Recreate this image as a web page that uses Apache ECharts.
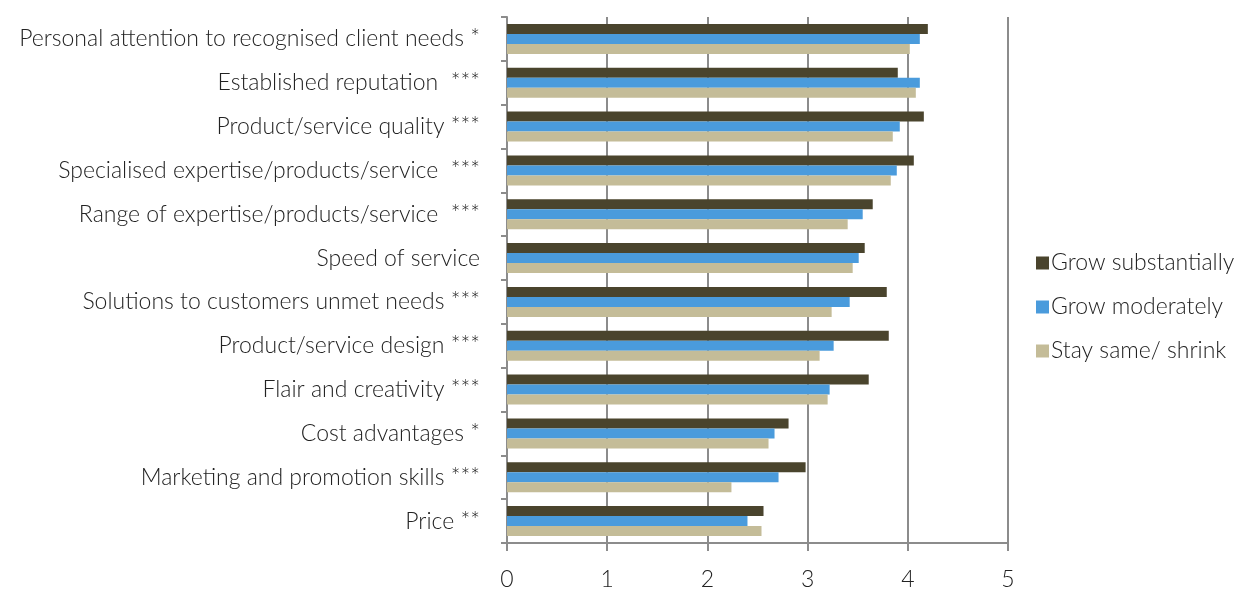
<!DOCTYPE html>
<html>
<head>
<meta charset="utf-8">
<script src="https://cdn.jsdelivr.net/npm/echarts@6/dist/echarts.min.js"></script>
<style>
  html, body { margin: 0; padding: 0; background: #ffffff; }
  #chart { width: 1241px; height: 594px; }
</style>
</head>
<body>
<div id="chart"></div>
<script>
// Factors, listed top to bottom
const categories = [
  'Personal attention to recognised client needs *',
  'Established reputation  ***',
  'Product/service quality ***',
  'Specialised expertise/products/service  ***',
  'Range of expertise/products/service  ***',
  'Speed of service',
  'Solutions to customers unmet needs ***',
  'Product/service design ***',
  'Flair and creativity ***',
  'Cost advantages *',
  'Marketing and promotion skills ***',
  'Price **'
];

const seriesNames = ['Grow substantially', 'Grow moderately', 'Stay same/ shrink'];

const growSubstantially = [4.20, 3.90, 4.16, 4.06, 3.65, 3.57, 3.79, 3.81, 3.61, 2.81, 2.98, 2.56];
const growModerately    = [4.12, 4.12, 3.92, 3.89, 3.55, 3.51, 3.42, 3.26, 3.22, 2.67, 2.71, 2.40];
const staySameShrink    = [4.02, 4.08, 3.85, 3.83, 3.40, 3.45, 3.24, 3.12, 3.20, 2.61, 2.24, 2.54];

const xTicks = [0, 1, 2, 3, 4, 5];

const colors = ['#4a442d', '#4a9bdc', '#c4bc98'];
const FONT = 'Lato';

const chart = echarts.init(document.getElementById('chart'));

function barSeries(name, data, color) {
  return {
    name: name,
    type: 'bar',
    data: data,
    barWidth: 10,
    barGap: '0%',
    itemStyle: { color: color },
    emphasis: { disabled: true }
  };
}

chart.setOption({
  animation: false,
  textStyle: { fontFamily: FONT },
  color: colors,
  grid: { left: 507, right: 233, top: 17, bottom: 51 },
  legend: {
    orient: 'vertical',
    left: 1031,
    top: 246,
    itemWidth: 13,
    itemHeight: 13,
    itemGap: 20,
    icon: 'rect',
    textStyle: { fontFamily: FONT, fontSize: 23, lineHeight: 24, color: '#222', fontWeight: 300, padding: [0, 0, 0, -3] },
    data: seriesNames
  },
  xAxis: {
    type: 'value',
    min: xTicks[0],
    max: xTicks[xTicks.length - 1],
    interval: 1,
    axisLine: { show: true, lineStyle: { color: '#8c8c8c', width: 2 } },
    axisTick: { show: true, length: 8, lineStyle: { color: '#8c8c8c', width: 2 } },
    axisLabel: { fontFamily: FONT, fontSize: 23, color: '#222', margin: 25, fontWeight: 300 },
    splitLine: { show: true, lineStyle: { color: '#8c8c8c', width: 2 } }
  },
  yAxis: {
    type: 'category',
    inverse: true,
    data: categories,
    axisLine: { show: true, lineStyle: { color: '#8c8c8c', width: 2 } },
    axisTick: { show: true, length: 6, lineStyle: { color: '#8c8c8c', width: 2 } },
    axisLabel: { fontFamily: FONT, fontSize: 23, color: '#222', margin: 27, fontWeight: 300 }
  },
  series: [
    barSeries(seriesNames[0], growSubstantially, colors[0]),
    barSeries(seriesNames[1], growModerately, colors[1]),
    barSeries(seriesNames[2], staySameShrink, colors[2])
  ]
});
</script>
</body>
</html>
